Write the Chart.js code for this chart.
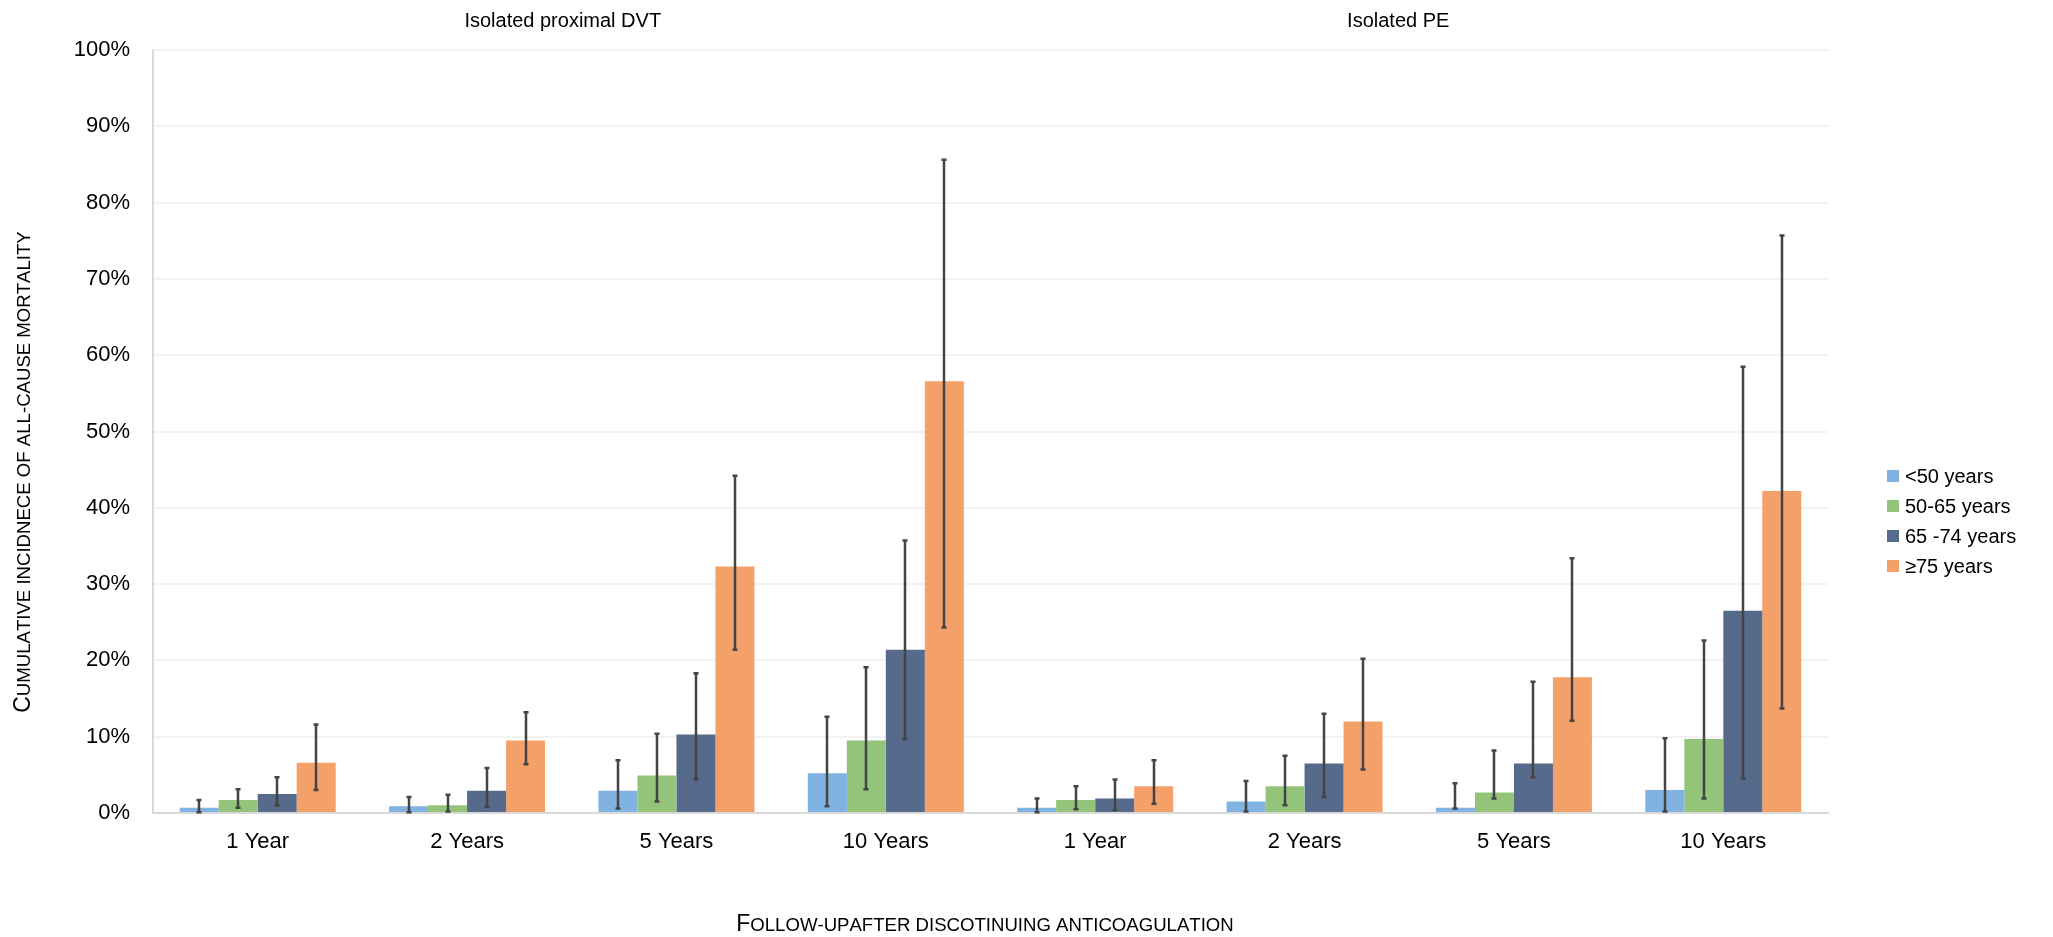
<!doctype html>
<html lang="en">
  <head>
    <meta charset="utf-8">
    <title>Cumulative incidence of all-cause mortality</title>
    <style>
      * { margin: 0; padding: 0; }
      body { background: #fff; }
      .chartBox { width: 2053px; height: 937px; }
    </style>
  </head>
  <body>
    <div class="chartBox"><canvas id="myChart"></canvas></div>
    <script src="https://cdn.jsdelivr.net/npm/chart.js/dist/chart.umd.min.js"></script>
    <script>
const categories = ['1 Year', '2 Years', '5 Years', '10 Years', '1 Year', '2 Years', '5 Years', '10 Years'];
const groupTitles = ['Isolated proximal DVT', 'Isolated PE'];
const seriesNames = ['<50 years', '50-65 years', '65 -74 years', '\u226575 years'];
const seriesColors = ['#80B3E1', '#93C47A', '#566A8B', '#F3A168'];

// values in %
const under50 = [0.7, 0.9, 2.9, 5.2, 0.7, 1.5, 0.7, 3.0];
const under50Low = [0.1, 0.1, 0.6, 0.9, 0.1, 0.2, 0.6, 0.2];
const under50High = [1.7, 2.1, 6.9, 12.6, 1.9, 4.2, 3.9, 9.8];

const age50to65 = [1.7, 1.0, 4.9, 9.5, 1.7, 3.5, 2.7, 9.7];
const age50to65Low = [0.7, 0.2, 1.5, 3.1, 0.5, 1.0, 1.9, 1.9];
const age50to65High = [3.1, 2.4, 10.4, 19.1, 3.5, 7.5, 8.2, 22.6];

const age65to74 = [2.5, 2.9, 10.3, 21.4, 1.9, 6.5, 6.5, 26.5];
const age65to74Low = [1.0, 0.8, 4.4, 9.7, 0.4, 2.1, 4.7, 4.5];
const age65to74High = [4.7, 5.9, 18.3, 35.7, 4.4, 13.0, 17.2, 58.5];

const over75 = [6.6, 9.5, 32.3, 56.6, 3.5, 12.0, 17.8, 42.2];
const over75Low = [3.0, 6.4, 21.4, 24.3, 1.2, 5.7, 12.1, 13.7];
const over75High = [11.6, 13.2, 44.2, 85.6, 6.9, 20.2, 33.4, 75.7];

const yTicks = [0, 10, 20, 30, 40, 50, 60, 70, 80, 90, 100];

const seriesValues = [under50, age50to65, age65to74, over75];
const seriesLow = [under50Low, age50to65Low, age65to74Low, over75Low];
const seriesHigh = [under50High, age50to65High, age65to74High, over75High];

const FONT = '"Liberation Sans", Arial, sans-serif';

// first letter full size, rest drawn as small caps
function smallCapsParts(text, big, small) {
  return text.split('').map(ch => {
    const isUpper = ch !== ch.toLowerCase();
    return { ch: ch.toUpperCase(), size: isUpper ? big : small };
  });
}
function drawSmallCaps(ctx, text, cx, cy, big, small) {
  const parts = smallCapsParts(text, big, small);
  let total = 0;
  parts.forEach(p => { ctx.font = p.size + 'px ' + FONT; p.w = ctx.measureText(p.ch).width; total += p.w; });
  let x = cx - total / 2;
  ctx.textBaseline = 'alphabetic';
  ctx.textAlign = 'left';
  parts.forEach(p => {
    ctx.font = p.size + 'px ' + FONT;
    ctx.fillText(p.ch, x, cy + big * 0.36);
    x += p.w;
  });
}

const data = {
  labels: categories,
  datasets: seriesNames.map((name, i) => ({
    label: name,
    data: seriesValues[i],
    low: seriesLow[i],
    high: seriesHigh[i],
    backgroundColor: seriesColors[i],
    borderWidth: 0,
    categoryPercentage: 0.745,
    barPercentage: 1.0
  }))
};

// error bars
const errorBars = {
  id: 'errorBars',
  afterDatasetsDraw(chart) {
    const { ctx, scales: { y } } = chart;
    ctx.save();
    ctx.strokeStyle = '#444';
    ctx.lineWidth = 2.5;
    chart.data.datasets.forEach((ds, di) => {
      const meta = chart.getDatasetMeta(di);
      meta.data.forEach((bar, i) => {
        const x = Math.round(bar.x);
        const yl = y.getPixelForValue(ds.low[i]);
        const yh = y.getPixelForValue(ds.high[i]);
        ctx.beginPath();
        ctx.moveTo(x, yl);
        ctx.lineTo(x, yh);
        ctx.moveTo(x - 2.5, yl);
        ctx.lineTo(x + 2.5, yl);
        ctx.moveTo(x - 2.5, yh);
        ctx.lineTo(x + 2.5, yh);
        ctx.stroke();
      });
    });
    ctx.restore();
  }
};

// group titles, axis titles and legend
const decorations = {
  id: 'decorations',
  afterDraw(chart) {
    const { ctx, scales: { x } } = chart;
    ctx.save();
    ctx.fillStyle = '#000';

    ctx.font = '20px ' + FONT;
    ctx.textAlign = 'center';
    ctx.textBaseline = 'middle';
    const g1 = (x.getPixelForValue(1) + x.getPixelForValue(2)) / 2 - 9;
    const g2 = (x.getPixelForValue(5) + x.getPixelForValue(6)) / 2 - 11;
    ctx.fillText(groupTitles[0], g1, 21);
    ctx.fillText(groupTitles[1], g2, 21);

    // x title
    drawSmallCaps(ctx, 'Follow-upafter discotinuing anticoagulation', 985, 923, 23, 18.6);

    // y title
    ctx.save();
    ctx.translate(22, 472);
    ctx.rotate(-Math.PI / 2);
    drawSmallCaps(ctx, 'Cumulative incidnece of all-cause mortality', 0, 0, 23, 18.6);
    ctx.restore();

    // legend
    const lx = 1887;
    let ly = 476;
    ctx.font = '20px ' + FONT;
    ctx.textAlign = 'left';
    ctx.textBaseline = 'middle';
    chart.data.datasets.forEach(ds => {
      ctx.fillStyle = ds.backgroundColor;
      ctx.fillRect(lx, ly - 6, 12, 12);
      ctx.fillStyle = '#000';
      ctx.fillText(ds.label, lx + 18, ly + 1);
      ly += 30;
    });
    ctx.restore();
  }
};

const config = {
  type: 'bar',
  data,
  options: {
    responsive: true,
    maintainAspectRatio: false,
    animation: false,
    layout: { padding: { left: 0, top: 50, right: 225, bottom: 0 } },
    plugins: {
      legend: { display: false },
      tooltip: { enabled: false }
    },
    scales: {
      x: {
        afterFit(scale) { scale.height = 124; },
        grid: { display: false, drawTicks: false },
        border: { color: '#D9D9D9', width: 2 },
        ticks: { color: '#000', font: { family: FONT, size: 22 }, padding: 16, maxRotation: 0, autoSkip: false }
      },
      y: {
        min: 0,
        max: 100,
        afterFit(scale) { scale.width = 153; },
        afterBuildTicks(scale) { scale.ticks = yTicks.map(v => ({ value: v })); },
        grid: { color: '#F2F2F2', lineWidth: 2, drawTicks: false },
        border: { color: '#D9D9D9', width: 2 },
        ticks: {
          color: '#000',
          font: { family: FONT, size: 22 },
          padding: 23,
          callback: v => v + '%'
        }
      }
    }
  },
  plugins: [errorBars, decorations]
};

const myChart = new Chart(document.getElementById('myChart'), config);
    </script>
  </body>
</html>
